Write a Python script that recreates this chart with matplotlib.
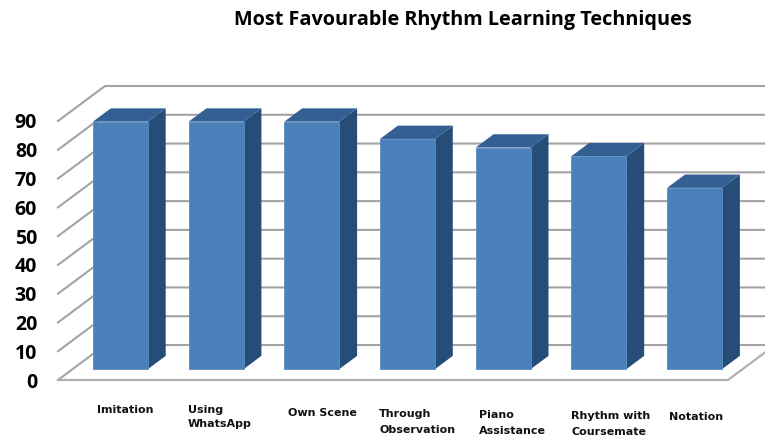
import matplotlib
matplotlib.use('Agg')
from matplotlib import pyplot as plt
from matplotlib.patches import Polygon

categories = ['Imitation', 'Using\nWhatsApp', 'Own Scene', 'Through\nObservation',
              'Piano\nAssistance', 'Rhythm with\nCoursemate', 'Notation']
values = [86, 86, 86, 80, 77, 74, 63]
y_ticks = [0, 10, 20, 30, 40, 50, 60, 70, 80, 90]

# label anchor in pixels (left edge, top edge), placed by eye
label_x = [97, 188, 288, 379, 479, 571, 669]
label_y = [405, 405, 408, 409, 410, 411, 412]
label_spacing = [1.5, 1.5, 1.5, 1.8, 1.8, 1.8, 1.5]

W, H = 765, 437
LEFT, BOTTOM, TOP = 58, 380, 121
X0 = 105.8      # pixel of category 0 on the front plane
X_STEP = 95.7
DEPTH_X = 47 / X_STEP           # full floor depth in x units
DEPTH_Y = 35 / ((BOTTOM - TOP) / 90)  # full floor depth in value units

plt.rcParams['font.family'] = ['Open Sans', 'DejaVu Sans']
fig = plt.figure(figsize=(W / 100, H / 100), dpi=100)
ax = fig.add_axes([LEFT / W, 1 - BOTTOM / H, (W - LEFT) / W, (BOTTOM - TOP) / H])
ax.set_xlim((LEFT - X0) / X_STEP, (W - X0) / X_STEP)
ax.set_ylim(0, 90)
ax.patch.set_visible(False)
for s in ax.spines.values():
    s.set_visible(False)


def proj(x, v, d):
    # oblique projection, d = 0 front of floor, d = 1 back wall
    return x + d * DEPTH_X, v + d * DEPTH_Y


x_left = ax.get_xlim()[0]
x_floor_end = (728 - X0) / X_STEP
x_far = x_floor_end + 2
grid = '#a3a3a3'

# gridlines on back wall and left wall
for v in y_ticks:
    a = proj(x_left, v, 0)
    b = proj(x_left, v, 1)
    c = proj(x_far, v, 1)
    ax.plot([a[0], b[0], c[0]], [a[1], b[1], c[1]], color=grid, lw=1.5,
            clip_on=False, zorder=1, solid_joinstyle='miter')

# floor outline
a = proj(x_left, 0, 0)
b = proj(x_floor_end, 0, 0)
c = proj(x_floor_end, 0, 1)
ax.plot([a[0], b[0], c[0]], [a[1], b[1], c[1]], color='#b0b0b0', lw=1.6,
        clip_on=False, zorder=1)

# bars
half = 0.287
d1, d2 = 0.31, 0.69
for i, val in enumerate(values):
    fl, fb = proj(i - half, 0, d1)
    fr, _ = proj(i + half, 0, d1)
    _, ft = proj(i, val, d1)
    bl, bb = proj(i - half, 0, d2)
    br, _ = proj(i + half, 0, d2)
    _, bt = proj(i, val, d2)
    ax.add_patch(Polygon([(fr, fb), (br, bb), (br, bt), (fr, ft)], closed=True,
                         fc='#264d78', ec='none', zorder=3, clip_on=False))
    ax.add_patch(Polygon([(fl, ft), (fr, ft), (br, bt), (bl, bt)], closed=True,
                         fc='#345f92', ec='none', zorder=3, clip_on=False))
    ax.add_patch(Polygon([(fl, fb), (fr, fb), (fr, ft), (fl, ft)], closed=True,
                         fc='#4a81bc', ec='#5a8cc2', lw=0.6, zorder=4, clip_on=False))

ax.set_yticks(y_ticks)
ax.set_xticks([])
ax.tick_params(axis='y', length=0, pad=15, labelsize=14, labelcolor='black')
for t in ax.get_yticklabels():
    t.set_fontweight('bold')

for name, px, py, sp in zip(categories, label_x, label_y, label_spacing):
    fig.text(px / W, 1 - py / H, name, ha='left', va='top', fontsize=8,
             fontweight='bold', family='DejaVu Sans', color='#111111', linespacing=sp)

fig.text(462.5 / W, 1 - 20 / H, 'Most Favourable Rhythm Learning Techniques',
         ha='center', va='center', fontsize=14.3, fontweight='bold', color='black')

fig.savefig('out.png', dpi=100)
